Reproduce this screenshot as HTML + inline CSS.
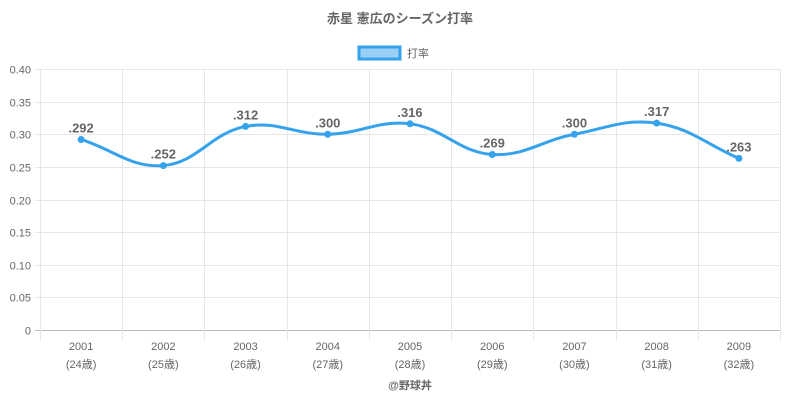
<!DOCTYPE html>
<html><head><meta charset="utf-8">
<style>
html,body{margin:0;padding:0;background:#fff;}
svg{display:block;font-family:"Liberation Sans","Noto Sans CJK JP",sans-serif;}
</style></head>
<body>
<svg id="c" width="800" height="400" xmlns="http://www.w3.org/2000/svg">
<text x="400" y="23" text-anchor="middle" font-size="13" font-weight="bold" fill="#666">赤星 憲広のシーズン打率</text>
<rect x="359" y="47" width="41" height="12" fill="rgba(54,162,235,0.5)" stroke="#36a2eb" stroke-width="3"/>
<text x="407" y="57" font-size="11" fill="#666">打率</text>
<g id="grid" stroke="#e6e6e6" stroke-width="1"></g>
<g id="ylab" font-size="11" fill="#666" text-anchor="end"></g>
<g id="xlab" font-size="11" fill="#666" text-anchor="middle"></g>
<path id="line" fill="none" stroke="#36a2eb" stroke-width="3"/>
<g id="pts"></g>
<text x="410" y="389" text-anchor="middle" font-size="11" font-weight="bold" fill="#666">@野球丼</text>
</svg>
<script>
var ns="http://www.w3.org/2000/svg";
function el(p,t,a,txt){var e=document.createElementNS(ns,t);for(var k in a)e.setAttribute(k,a[k]);if(txt!=null)e.textContent=txt;document.getElementById(p).appendChild(e);return e;}
var L=40,R=780,Y0=330,Y1=69;
function yv(v){return Y0-(v/0.4)*(Y0-Y1);}
for(var i=0;i<=8;i++){var v=i*0.05,y=Math.round(yv(v))+0.5;
 el("grid","line",{x1:L-5,x2:R,y1:y,y2:y,stroke:i==0?"#bbb":"#e6e6e6"});
 el("ylab","text",{x:L-9,y:y+4},i==0?"0":v.toFixed(2));}
var w=(R-L)/9;
for(var i=0;i<=9;i++){var x=Math.round(L+i*w)+0.5;el("grid","line",{x1:x,x2:x,y1:Y1,y2:Y0+10});}
var vals=[.292,.252,.312,.300,.316,.269,.300,.317,.263];
var P=[];
for(var i=0;i<9;i++){var x=L+w*(i+0.5);P.push([x,yv(vals[i])]);
 el("xlab","text",{x:x,y:350},String(2001+i));
 el("xlab","text",{x:x,y:368},"("+(24+i)+"歳)");}
var t=0.4,d="M"+P[0][0]+","+P[0][1];
var cps=[];
for(var i=0;i<9;i++){var p=P[Math.max(0,i-1)],c=P[i],n=P[Math.min(8,i+1)];
 var d01=Math.hypot(c[0]-p[0],c[1]-p[1]),d12=Math.hypot(n[0]-c[0],n[1]-c[1]);
 var s=d01+d12||1,fa=t*d01/s,fb=t*d12/s;
 cps.push([[c[0]-fa*(n[0]-p[0]),c[1]-fa*(n[1]-p[1])],[c[0]+fb*(n[0]-p[0]),c[1]+fb*(n[1]-p[1])]]);}
for(var i=1;i<9;i++){var a=cps[i-1][1],b=cps[i][0];d+=" C"+a[0]+","+a[1]+" "+b[0]+","+b[1]+" "+P[i][0]+","+P[i][1];}
document.getElementById("line").setAttribute("d",d);
for(var i=0;i<9;i++){el("pts","circle",{cx:P[i][0],cy:P[i][1],r:3,fill:"#36a2eb",stroke:"#36a2eb"});
 el("pts","text",{x:P[i][0],y:P[i][1]-7,"text-anchor":"middle","font-size":13,"font-weight":"bold",fill:"#666"},vals[i].toFixed(3).slice(1));}
</script>
</body></html>
